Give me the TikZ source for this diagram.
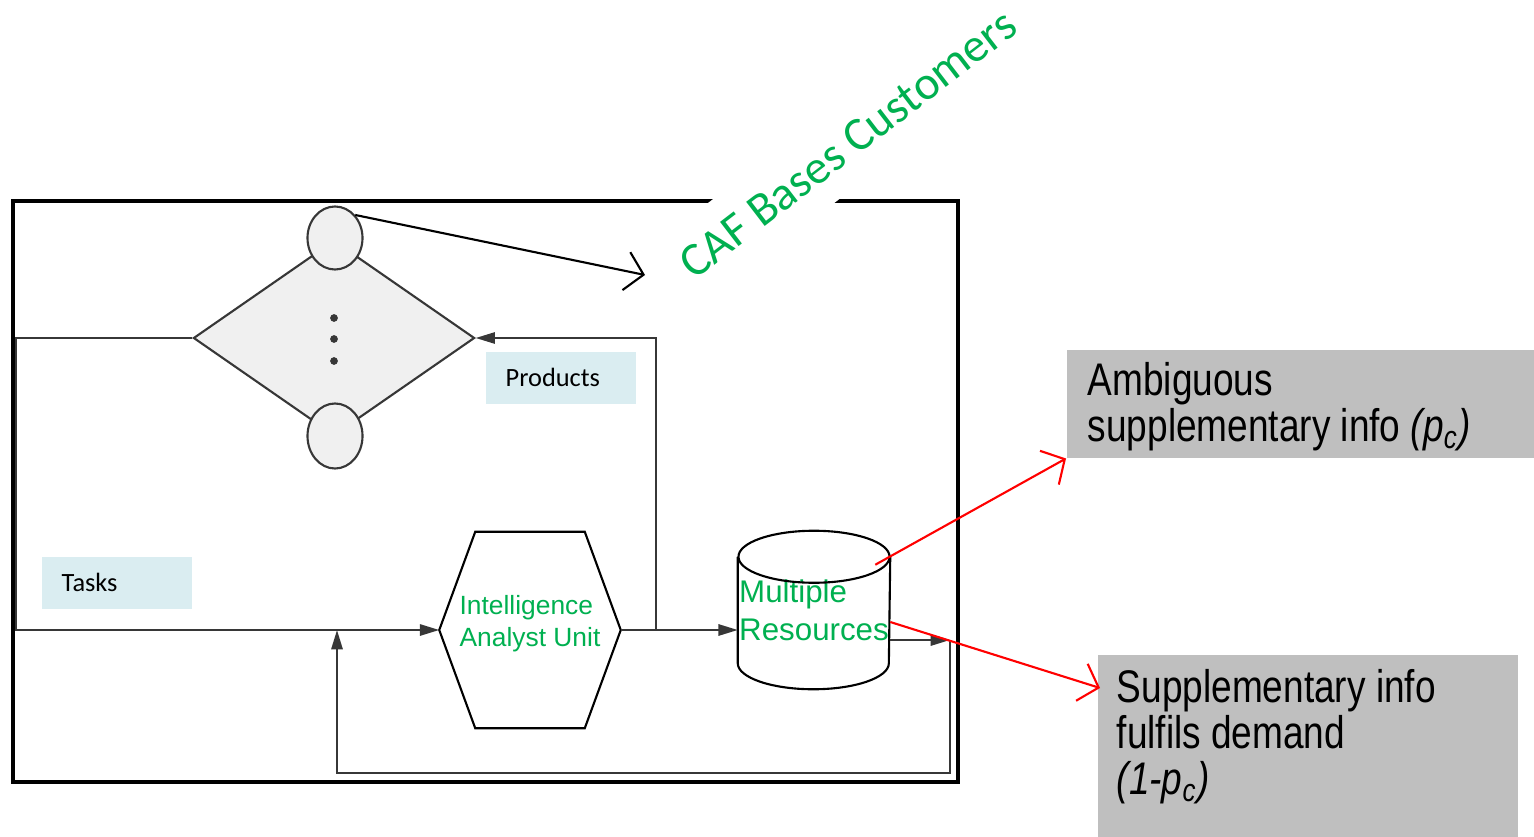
\documentclass[tikz,border=0pt]{standalone}
\usepackage{fontspec}
\setmainfont{Liberation Sans}
\newfontfamily\calibrifont{Carlito}
\newfontfamily\narrowfont[FakeStretch=0.81]{Liberation Sans}
\usetikzlibrary{shapes.geometric,arrows.meta,positioning,calc}
\definecolor{cafGreen}{RGB}{0,176,80}
\definecolor{scanGray}{RGB}{55,55,55}
\definecolor{scanFill}{RGB}{240,240,240}
\definecolor{tagBlue}{RGB}{218,237,241}
\definecolor{infoGray}{RGB}{191,191,191}

\begin{document}
\begin{tikzpicture}[x=0.01cm, y=-0.01cm,
    flow/.style={draw=scanGray, line width=0.6pt, -{Triangle[length=5.5pt,width=3.2pt]}},
    outline/.style={draw=black, line width=0.6pt},
    tagbox/.style={anchor=north west, fill=tagBlue, minimum height=0.52cm, inner xsep=0.2cm, text width=1.1cm, align=left, font=\calibrifont\fontsize{7.5}{9}\selectfont},
    infobox/.style={anchor=north west, fill=infoGray},
    infotext/.style={anchor=north west, inner sep=0, align=left, font=\narrowfont\fontsize{13}{13.1}\selectfont},
    barb/.style={line width=0.6pt, -{Straight Barb[length=5pt,width=11pt]}}]
    \useasboundingbox (0,0) rectangle (1534,837);
    \draw[line width=1.4pt] (13,201) rectangle (958,782);

    \node[diamond, draw=scanGray, fill=scanFill, line width=0.6pt, minimum width=2.81cm, minimum height=1.95cm, inner sep=0] (dia) at (334,338) {};
    \node[ellipse, draw=scanGray, fill=scanFill, line width=0.6pt, minimum width=0.55cm, minimum height=0.63cm, inner sep=0] (topc) at (335,238) {};
    \node[ellipse, draw=scanGray, fill=scanFill, line width=0.6pt, minimum width=0.55cm, minimum height=0.65cm, inner sep=0] (botc) at (335,436) {};
    \foreach \y in {318,339,361}
        \fill[scanGray] (334,\y) circle (1.1pt);

    \node[minimum width=1.8cm, minimum height=1.95cm, inner sep=0, text depth=5pt, align=left, text=cafGreen, font=\fontsize{7.5}{9.1}\selectfont] (hex) at (530,630) {Intelligence\\Analyst Unit};
    \draw[outline] (hex.west) -- ($(hex.north west)+(36,0)$) -- ($(hex.north east)+(-36,0)$) -- (hex.east) -- ($(hex.south east)+(-36,0)$) -- ($(hex.south west)+(36,0)$) -- cycle;

    \node[minimum width=1.51cm, minimum height=1.57cm, inner sep=0, align=left, text=cafGreen, font=\fontsize{8.9}{10.8}\selectfont] (res) at (814,610) {Multiple\\Resources};
    \draw[outline] ($(res.north)+(0,26)$) ellipse [x radius=0.755cm, y radius=0.26cm];
    \draw[outline] ($(res.north west)+(0,26)$) -- ($(res.south west)+(0,-26)$) arc[start angle=180, end angle=360, x radius=0.755cm, y radius=0.26cm] -- ($(res.north east)+(0,26)$);

    \node[tagbox] (prodtag) at (485,351) {Products};
    \node[tagbox] (tasktag) at (41,556) {Tasks};

    \coordinate (split) at (656,630);
    \coordinate (ret) at (950,640);
    \coordinate (merge) at (337,630);
    \draw[flow] (dia.west) -- ++(-176,0) |- (hex.west);
    \draw[flow] (split) |- (dia.east);
    \draw[flow] (hex.east) -- (hex.east -| res.west);
    \draw[flow] (res.east |- ret) -- (ret);
    \draw[flow] (ret) -- ++(0,133) -| (merge);

    \node[rotate=37.5, fill=white, inner ysep=6.5pt, text=cafGreen, font=\calibrifont\fontsize{13.5}{16}\selectfont] (caf) at (848,144) {CAF Bases Customers};
    \draw[barb] (topc.north east) -- (645,275);

    \node[infobox, minimum width=4.68cm, minimum height=1.08cm] (amb) at (1066,349) {};
    \node[infotext] (amblbl) at ($(amb.north west)+(21,13)$) {Ambiguous\\supplementary info \textit{(p\textsubscript{c})}};
    \node[infobox, minimum width=4.2cm, minimum height=1.83cm] (sup) at (1097,654) {};
    \node[infotext] (suplbl) at ($(sup.north west)+(19,15)$) {Supplementary info\\fulfils demand\\\textit{(1-p\textsubscript{c})}};

    \draw[barb, red] ($(res.north east)+(-15,34)$) -- (amb.south west);
    \draw[barb, red] ($(res.east)+(0,12)$) -- ($(sup.north west)+(3,34)$);
\end{tikzpicture}
\end{document}
